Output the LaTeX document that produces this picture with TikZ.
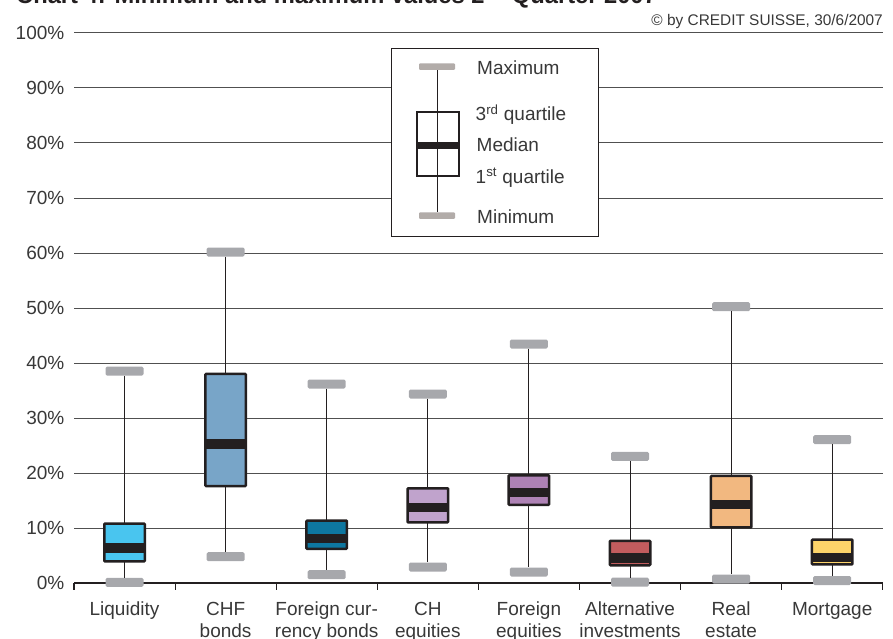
\documentclass[tikz,border=0pt]{standalone}
\usepackage{fontspec}
\setmainfont{Liberation Sans}
\definecolor{ink}{HTML}{231F20}
\definecolor{capgray}{HTML}{A7A8AC}
\definecolor{lcapgray}{HTML}{B2ACA9}
\definecolor{gridc}{HTML}{505050}
\definecolor{txt}{HTML}{383838}
\definecolor{cA}{HTML}{49C5EF}
\definecolor{cB}{HTML}{78A5C8}
\definecolor{cC}{HTML}{0E77A0}
\definecolor{cD}{HTML}{C0A3CC}
\definecolor{cE}{HTML}{AE82B5}
\definecolor{cF}{HTML}{C25C5E}
\definecolor{cG}{HTML}{F2B880}
\definecolor{cH}{HTML}{FDD46A}
\tikzset{
  capbox/.style={rectangle, fill=capgray, minimum width=38pt, minimum height=9pt, inner sep=0pt, rounded corners=1.5pt},
  lcap/.style={rectangle, fill=lcapgray, minimum width=36pt, minimum height=6.5pt, inner sep=0pt, rounded corners=1pt},
  whisk/.style={draw=ink, line width=1pt},
  boxline/.style={draw=ink, line width=2.5pt, rounded corners=0.8pt},
  gridl/.style={draw=gridc, line width=1pt},
  lab/.style={text=txt, font=\fontsize{19}{22}\selectfont, inner sep=0pt},
}
\newcommand{\bplot}[8]{%
  \node[capbox] (max#1) at (#2,#3) {};
  \node[capbox] (min#1) at (#2,#7) {};
  \draw[whisk] (max#1) -- (min#1);
  \path[fill=#8] (#2-20.25,#4+1.25) rectangle (#2+20.25,#6-1.25);
  \fill[ink] (#2-20.25,#5-4.7) rectangle (#2+20.25,#5+4.7);
  \draw[boxline] (#2-20.25,#4+1.25) rectangle (#2+20.25,#6-1.25);
}
\begin{document}
\begin{tikzpicture}[x=1pt,y=-1pt]
\useasboundingbox (0,0) rectangle (893,639);
\clip (0,0) rectangle (893,639);
% title (cut off at top, as in the source)
\node[anchor=base west, inner sep=0pt, text=ink, font=\fontsize{23.7}{26}\selectfont\bfseries] (title) at (16,4) {Chart 4: Minimum and maximum values 2\textsuperscript{nd} Quarter 2007};
% copyright
\node[anchor=base east, inner sep=0pt, text=txt, font=\fontsize{15.4}{17}\selectfont] (copy) at (883,26) {© by CREDIT SUISSE, 30/6/2007};
% grid
\foreach \p in {10,20,...,100} {
  \draw[gridl] (74,{583-5.5*\p}) -- (883,{583-5.5*\p});
}
\foreach \p in {0,10,...,100} {
  \node[lab, anchor=base east] (y\p) at (64.5,{583-5.5*\p+6.8}) {\p\%};
}
% axis
\draw[ink, line width=1.3pt] (74,583) -- (883,583);
\foreach \k in {0,...,8} {
  \draw[ink, line width=1.2pt] ({74+101.1*\k},583) -- ({74+101.1*\k},590);
}
% legend
\draw[ink, line width=1pt, fill=white] (391,49) rectangle (598,236);
\node[lcap] (lmax) at (437,66.7) {};
\node[lcap] (lmin) at (437,215.7) {};
\draw[whisk] (lmax) -- (lmin);
\fill[ink] (416.5,141.7) rectangle (458.5,149.3);
\draw[ink, line width=2pt] (416.5,112) rectangle (458.5,176);
\node[lab, anchor=base west] (lt1) at (477,75) {Maximum};
\node[lab, anchor=base west] (lt2) at (475.5,120.5) {3\textsuperscript{rd} quartile};
\node[lab, anchor=base west] (lt3) at (476.5,152) {Median};
\node[lab, anchor=base west] (lt4) at (475.5,183) {1\textsuperscript{st} quartile};
\node[lab, anchor=base west] (lt5) at (477,223.5) {Minimum};
% box plots: name, cx, max, q3, med, q1, min, colour
\bplot{a}{124.5}{371}{522.3}{548}{562.7}{582.3}{cA}
\bplot{b}{225.6}{252}{372.7}{444}{487.3}{556.7}{cB}
\bplot{c}{326.7}{384}{519.3}{538.3}{550}{574.7}{cC}
\bplot{d}{427.8}{394}{487}{507.3}{523.7}{567}{cD}
\bplot{e}{528.9}{344}{474}{492.7}{506}{572}{cE}
\bplot{f}{630}{456.3}{539.5}{558}{566.5}{582.2}{cF}
\bplot{g}{731.1}{306.7}{474.7}{504.3}{528.7}{579}{cG}
\bplot{h}{832.2}{439.7}{538.3}{557.5}{565.7}{580.5}{cH}
% category labels
\foreach \k/\la/\lb in {0/Liquidity/,1/CHF/bonds,2/Foreign cur-/rency bonds,3/CH/equities,4/Foreign/equities,5/Alternative/investments,6/Real/estate,7/Mortgage/} {
  \node[lab, anchor=base] (ca\k) at ({124.5+101.1*\k},615) {\la};
  \node[lab, anchor=base] (cb\k) at ({124.5+101.1*\k},637) {\lb};
}
\end{tikzpicture}
\end{document}
